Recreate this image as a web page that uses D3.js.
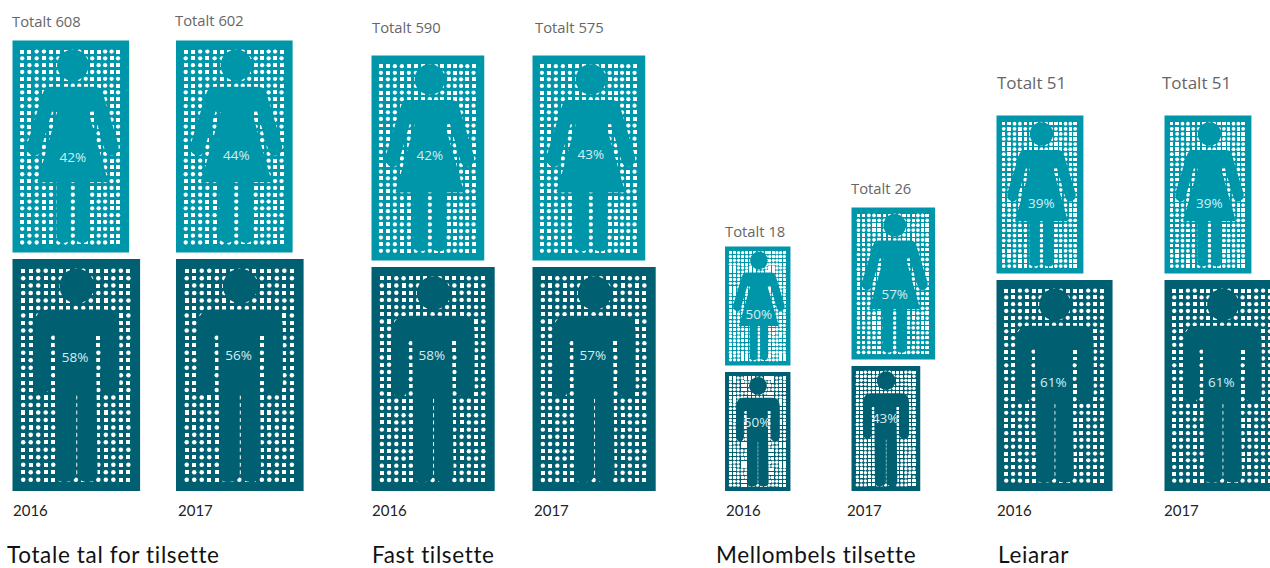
<!DOCTYPE html>
<html lang="nn">
<head>
<meta charset="utf-8">
<title>Tilsette etter kjønn</title>
<script src="https://cdn.jsdelivr.net/npm/d3@7"></script>
<style>
html,body{margin:0;padding:0;background:#fff;overflow:hidden}
svg{display:block}
</style>
</head>
<body>
<svg id="chart" width="1270" height="568"></svg>
<script>
// ---------- data ----------
const groups  = ["Totale tal for tilsette", "Fast tilsette", "Mellombels tilsette", "Leiarar"];
const years   = [2016, 2017];
const totals  = [[608, 602], [590, 575], [18, 26], [51, 51]];
const women   = [[42, 44], [42, 43], [50, 57], [39, 39]];
const men     = [[58, 56], [58, 57], [50, 43], [61, 61]];

// ---------- layout (not data) ----------
const W = 1270, H = 568, baseline = 491, stackGap = 6.5, aspect = 0.55;
const cardIds = groups.flatMap((g, i) => years.map(y => `${i}-${y}`));
const xCard   = d3.scaleOrdinal(cardIds, [12.5, 176, 371.5, 532.5, 725, 851.5, 996.5, 1164.5]);
const totalX  = d3.scaleOrdinal(cardIds, [12, 175, 372, 535, 725, 851, 997, 1162]);
const totalY  = d3.scaleOrdinal(cardIds, [27, 26, 33, 33, 237, 194, 89, 89]);
const totalFS = d3.scaleOrdinal(cardIds, [14.8, 14.8, 14.8, 14.8, 14.8, 14.8, 17, 17]);
const yearX   = d3.scaleOrdinal(cardIds, [13, 178, 372, 534, 726, 847, 997, 1164]);
const pctYW   = d3.scaleOrdinal(cardIds, [157, 155, 155, 154, 314, 294, 203, 203]);
const pctYM   = d3.scaleOrdinal(cardIds, [357, 355, 355, 355, 422, 418, 382, 382]);
const titleX  = d3.scaleOrdinal(groups, [7, 372, 716, 998]);

// headcount -> figure height, one scale for each panel group
const heightScales = [
  d3.scaleLinear().domain([265, 337]).range([212, 232]).clamp(true),
  d3.scaleLinear().domain([248, 328]).range([205, 224]).clamp(true),
  d3.scaleLinear().domain([9, 11, 15]).range([119, 125, 152]).clamp(true),
  d3.scaleLinear().domain([20, 31]).range([158, 211]).clamp(true)
];
// figure height -> perforation size in screen pixels
const holePx = d3.scaleLinear().domain([119, 232]).range([3.1, 4.2]);

// figure templates, drawn in their own unit space and scaled to each card
const shapes = {
  woman: {
    w: 348, h: 634, fill: "#0096aa",
    xDots: d3.scaleLinear().domain([0, 7, 14]).range([29, 180, 315]),
    yDots: d3.scaleLinear().domain([0, 28]).range([33, 604]),
    head: [180, 74, 47],
    body: "M111,138 Q94,140 88,165 L44,310 Q38,340 65,345 Q78,345 84,330 L118,212 L133,214 L74,424 L131,424 L131,585 Q131,606 150,606 Q173,606 173,585 L173,424 L187,424 L187,585 Q187,606 210,606 Q229,606 229,585 L229,424 L286,424 L227,214 L242,212 L276,330 Q282,345 295,345 Q322,340 316,310 L272,165 Q266,140 249,138 Z"
  },
  man: {
    w: 381, h: 695, fill: "#005f70",
    xDots: d3.scaleLinear().domain([0, 14]).range([32, 346]),
    yDots: d3.scaleLinear().domain([0, 28]).range([35, 661]),
    head: [192, 81, 52],
    body: "M110,151 Q64,151 64,205 L64,375 Q66,405 88,405 Q110,405 110,375 L110,228 L126,228 L130,645 Q130,668 152,668 Q190,668 190.5,645 L190.5,408 L193.5,408 L193.5,645 Q194,668 225,668 Q254,668 254,645 L249,228 L265,228 L265,375 Q265,405 292,405 Q319,405 319,375 L319,205 Q319,151 274,151 Z"
  }
};
const isSquare = (r, c) => (c * c + r * 3 + c * r) % 5 < 3;   // perforation texture

const cols = d3.range(15), rows = d3.range(29);
const holes = rows.flatMap(r => cols.map(c => ({r, c, square: isSquare(r, c)})));

// ---------- draw ----------
const svg = d3.select("#chart");
const sans = "'Open Sans','Noto Sans',sans-serif";

function figure(kind, x, y, h) {
  const s = shapes[kind], k = (h * aspect) / s.w, sy = h / s.h;
  const size = holePx(h) / k;
  const dia = size * 1.08;
  const g = svg.append("g").attr("class", kind)
    .attr("transform", `translate(${x},${y}) scale(${k},${sy})`);
  g.append("rect").attr("width", s.w).attr("height", s.h).attr("fill", s.fill);
  g.selectAll("rect.hole").data(holes).join("rect").attr("class", "hole")
    .attr("x", d => s.xDots(d.c) - (d.square ? size : dia) / 2)
    .attr("y", d => s.yDots(d.r) - (d.square ? size : dia) / 2)
    .attr("width", d => d.square ? size : dia)
    .attr("height", d => d.square ? size : dia)
    .attr("rx", d => d.square ? 0 : dia / 2)
    .attr("ry", d => d.square ? 0 : dia / 2)
    .attr("shape-rendering", d => d.square ? "crispEdges" : "auto")
    .attr("fill", "#fff");
  g.append("circle").attr("cx", s.head[0]).attr("cy", s.head[1]).attr("r", s.head[2]).attr("fill", s.fill);
  g.append("path").attr("d", s.body).attr("fill", s.fill);
}

groups.forEach((group, gi) => {
  years.forEach((year, yi) => {
    const id = `${gi}-${year}`, total = totals[gi][yi];
    const hM = heightScales[gi](Math.round(total * men[gi][yi] / 100));
    const hW = heightScales[gi](Math.round(total * women[gi][yi] / 100));
    const x = xCard(id);
    const yM = baseline - hM, yW = yM - stackGap - hW;

    figure("woman", x, yW, hW);
    figure("man", x, yM, hM);

    const pct = (px, py, v) => svg.append("text")
      .attr("x", px).attr("y", py).attr("dy", "0.36em").attr("text-anchor", "middle")
      .attr("font-family", sans).attr("font-size", 13.5).attr("fill", "#d5eef3").text(v + "%");
    pct(x + hW * aspect * 0.517, pctYW(id), women[gi][yi]);
    pct(x + hM * aspect * 0.49, pctYM(id), men[gi][yi]);

    svg.append("text").attr("x", totalX(id)).attr("y", totalY(id))
      .attr("font-family", sans).attr("font-size", totalFS(id)).attr("fill", "#666")
      .text(`Totalt ${total}`);
    svg.append("text").attr("x", yearX(id)).attr("y", 516)
      .attr("font-family", "Lato,sans-serif").attr("font-size", 15).attr("fill", "#222")
      .text(year);
  });
  svg.append("text").attr("x", titleX(group)).attr("y", 563)
    .attr("font-family", "Lato,sans-serif").attr("font-size", 22.5)
    .attr("letter-spacing", 0.65).attr("fill", "#111")
    .text(group);
});
</script>
</body>
</html>
